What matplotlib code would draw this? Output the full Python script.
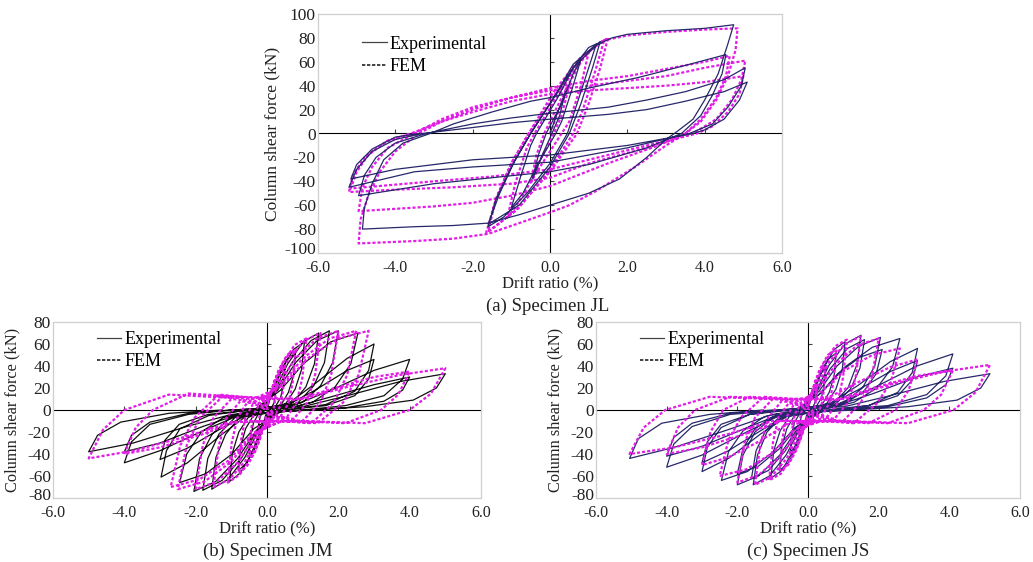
import matplotlib
matplotlib.use("Agg")
import matplotlib.pyplot as plt
from matplotlib.lines import Line2D
from matplotlib.transforms import ScaledTranslation

plt.rcParams['font.family'] = ['Liberation Serif', 'DejaVu Serif']

# ---------------- text / ticks ----------------
x_ticks = [-6.0, -4.0, -2.0, 0.0, 2.0, 4.0, 6.0]
JL_y_ticks = [-100, -80, -60, -40, -20, 0, 20, 40, 60, 80, 100]
JMS_y_ticks = [-80, -60, -40, -20, 0, 20, 40, 60, 80]
captions = ['(a) Specimen JL', '(b) Specimen JM', '(c) Specimen JS']
x_label = 'Drift ratio (%)'
y_label = 'Column shear force (kN)'
legend_labels = ['Experimental', 'FEM']

# ---------------- data: (drift %, shear kN) ----------------
JL_exp = [
    (0, 0), (0.2, 18), (0.4, 35), (0.25, 15), (0.05, 0), (-0.2, -18), (-0.45, -38), (-0.3, -18), (-0.1, 0),
    (0.3, 25), (0.6, 50), (0.8, 62), (0.55, 35), (0.3, 10), (0.15, 0), (-0.3, -25), (-0.7, -50), (-1.0, -62), (-0.75, -35), (-0.5, -10), (-0.35, 0),
    (0.2, 30), (0.6, 55), (1.0, 72), (1.2, 75), (1.0, 55), (0.7, 25), (0.45, 0), (0.0, -25), (-0.6, -50), (-1.2, -70), (-1.6, -78), (-1.4, -55), (-1.0, -28), (-0.5, 0),
    (0.1, 30), (0.6, 58), (1.1, 72), (1.3, 77), (1.1, 55), (0.8, 25), (0.5, 0), (0.0, -28), (-0.8, -60), (-1.6, -76), (-1.3, -50), (-0.9, -22), (-0.5, 0),
    (0.0, 25), (0.6, 55), (1.2, 74), (1.6, 80), (2.0, 83), (3.0, 86), (4.0, 88), (4.75, 91), (4.6, 75), (4.35, 50), (4.0, 28), (3.7, 12), (3.3, 2),
    (3.0, -5), (2.5, -20), (1.8, -38), (1.0, -50), (0.4, -56), (0.0, -60), (-0.8, -68), (-1.6, -75), (-2.5, -77), (-3.5, -78), (-4.85, -80),
    (-4.8, -62), (-4.6, -42), (-4.3, -22), (-3.8, -8), (-3.1, 0),
    (-2.5, 8), (-1.5, 18), (-0.5, 27), (0.0, 30), (1.0, 38), (2.3, 47), (3.5, 57), (4.55, 66), (4.45, 50), (4.2, 32), (3.9, 15), (3.4, 0),
    (2.5, -12), (1.0, -26), (0.0, -32), (-1.5, -37), (-3.0, -42), (-4.95, -52), (-4.8, -35), (-4.5, -20), (-4.0, -8), (-3.2, 0),
    (-2.0, 8), (-1.0, 13), (0.0, 17), (1.5, 22), (2.5, 28), (3.5, 35), (4.5, 45), (5.05, 55), (4.95, 40), (4.6, 22), (4.2, 8), (3.6, 0),
    (2.0, -12), (0.0, -24), (-2.0, -28), (-3.5, -32), (-5.2, -45), (-5.0, -30), (-4.6, -15), (-4.0, -5), (-3.3, 0),
    (-2.0, 5), (-1.0, 9), (0.0, 12), (1.5, 16), (2.5, 20), (3.5, 27), (4.5, 35), (5.1, 43), (4.9, 28), (4.5, 12), (4.0, 3), (3.7, 0),
    (2.0, -10), (0.0, -18), (-2.0, -22), (-4.0, -30), (-5.15, -38), (-5.0, -26), (-4.6, -13), (-4.0, -3), (-3.4, 0),
]

JL_fem = [
    (0, 0), (0.3, 25), (0.5, 40), (0.3, 15), (0.1, 0), (-0.3, -25), (-0.5, -42), (-0.35, -18), (-0.15, 0),
    (0.3, 30), (0.8, 60), (1.0, 68), (0.8, 40), (0.5, 10), (0.3, 0), (-0.3, -30), (-0.9, -62), (-1.1, -70), (-0.9, -42), (-0.6, -12), (-0.4, 0),
    (0.2, 32), (0.8, 62), (1.2, 74), (1.4, 78), (1.15, 50), (0.85, 20), (0.6, 0), (0.0, -30), (-0.8, -62), (-1.5, -80), (-1.65, -83), (-1.4, -55), (-1.0, -25), (-0.55, 0),
    (0.2, 35), (0.9, 66), (1.3, 76), (1.5, 80), (1.3, 55), (1.0, 25), (0.7, 0), (0.0, -32), (-0.9, -65), (-1.6, -82), (-1.4, -55), (-1.0, -25), (-0.55, 0),
    (0.1, 35), (0.8, 64), (1.4, 78), (2.0, 82), (3.0, 85), (4.0, 87), (4.85, 88), (4.8, 70), (4.6, 48), (4.3, 28), (3.9, 10), (3.5, 0),
    (3.0, -10), (2.2, -28), (1.2, -48), (0.5, -60), (0.0, -66), (-0.8, -75), (-1.6, -84), (-2.5, -88), (-3.5, -90), (-4.95, -92),
    (-4.9, -72), (-4.7, -52), (-4.4, -32), (-4.0, -15), (-3.4, 0),
    (-2.8, 10), (-2.0, 20), (-1.0, 30), (0.0, 38), (1.0, 44), (2.0, 48), (3.0, 54), (4.0, 60), (4.65, 65), (4.55, 48), (4.3, 30), (3.9, 12), (3.5, 0),
    (2.8, -10), (1.5, -25), (0.0, -44), (-1.0, -52), (-2.0, -58), (-3.0, -61), (-4.95, -65), (-4.85, -45), (-4.6, -28), (-4.2, -12), (-3.5, 0),
    (-2.8, 12), (-2.0, 22), (-1.0, 30), (0.0, 36), (1.0, 40), (2.0, 44), (3.0, 48), (4.0, 55), (5.05, 61), (4.95, 45), (4.7, 28), (4.3, 12), (3.7, 0),
    (2.5, -12), (1.0, -25), (0.0, -37), (-1.0, -42), (-2.5, -45), (-4.0, -47), (-5.2, -49), (-5.1, -35), (-4.8, -20), (-4.3, -8), (-3.6, 0),
    (-2.8, 10), (-2.0, 18), (-1.0, 27), (0.0, 33), (1.0, 36), (2.0, 38), (3.0, 40), (4.0, 43), (5.0, 48), (4.9, 33), (4.6, 18), (4.2, 6), (3.8, 0),
    (2.5, -10), (1.0, -22), (0.0, -30), (-1.5, -36), (-3.0, -40), (-5.15, -46), (-5.0, -32), (-4.7, -18), (-4.2, -6), (-3.6, 0),
]

JM_exp = [
    (0, 0), (0.04, 5), (0.1, 12), (0.18, 18), (0.25, 20), (0.23, 12), (0.19, 6), (0.12, 2), (0.05, 0),
    (-0.04, -5), (-0.1, -12), (-0.18, -18), (-0.25, -20), (-0.23, -12), (-0.19, -6), (-0.12, -2), (-0.05, 0),
    (0.08, 10), (0.2, 23), (0.35, 33), (0.5, 38), (0.46, 23), (0.38, 11), (0.25, 4), (0.1, 1),
    (-0.08, -10), (-0.2, -24), (-0.35, -35), (-0.5, -40), (-0.46, -24), (-0.38, -12), (-0.25, -4), (-0.1, -1),
    (0.12, 13), (0.32, 31), (0.56, 46), (0.8, 52), (0.74, 31), (0.6, 16), (0.4, 5), (0.16, 1),
    (-0.12, -14), (-0.32, -33), (-0.56, -48), (-0.8, -55), (-0.74, -33), (-0.6, -17), (-0.4, -6), (-0.16, -1),
    (0.16, 16), (0.42, 37), (0.74, 55), (1.05, 62), (0.97, 37), (0.79, 19), (0.53, 6), (0.21, 1),
    (-0.16, -16), (-0.42, -39), (-0.74, -57), (-1.05, -65), (-0.97, -39), (-0.79, -20), (-0.53, -7), (-0.21, -1),
    (0.22, 18), (0.58, 42), (1.02, 62), (1.45, 70), (1.33, 42), (1.09, 21), (0.73, 7), (0.29, 1),
    (-0.23, -18), (-0.62, -43), (-1.09, -63), (-1.55, -72), (-1.43, -43), (-1.16, -22), (-0.78, -7), (-0.31, -1),
    (0.26, 18), (0.7, 43), (1.23, 63), (1.75, 72), (1.61, 43), (1.31, 22), (0.88, 7), (0.35, 1),
    (-0.27, -18), (-0.72, -44), (-1.26, -64), (-1.8, -73), (-1.66, -44), (-1.35, -22), (-0.9, -7), (-0.36, -1),
    (0.3, 18), (0.8, 43), (1.4, 63), (2.0, 72), (1.84, 43), (1.5, 22), (1.0, 7), (0.4, 1),
    (-0.31, -19), (-0.82, -44), (-1.44, -65), (-2.05, -74), (-1.89, -44), (-1.54, -22), (-1.03, -7), (-0.41, -1),
    (0.38, 18), (1.02, 42), (1.79, 62), (2.55, 70), (2.35, 42), (1.91, 21), (1.28, 7), (0.51, 1),
    (-0.37, -17), (-0.98, -40), (-1.72, -58), (-2.45, -66), (-2.25, -40), (-1.84, -20), (-1.23, -7), (-0.49, -1),
    (0.6, 6), (1.35, 24), (2.25, 47), (3.0, 60), (2.85, 36), (2.46, 17), (1.65, 5), (0.75, 1),
    (-0.6, -6), (-1.34, -24), (-2.23, -48), (-2.97, -61), (-2.82, -37), (-2.44, -17), (-1.63, -5), (-0.74, -1),
    (0.6, 5), (1.35, 18), (2.25, 36), (3.0, 46), (2.85, 28), (2.46, 13), (1.65, 4), (0.75, 1),
    (-0.6, -5), (-1.35, -18), (-2.25, -35), (-3.0, -45), (-2.85, -27), (-2.46, -13), (-1.65, -4), (-0.75, -1),
    (0.8, 5), (1.8, 18), (3.0, 36), (4.0, 46), (3.8, 28), (3.28, 13), (2.2, 4), (1.0, 0),
    (-0.8, -5), (-1.8, -19), (-3.0, -37), (-4.0, -48), (-3.8, -29), (-3.28, -13), (-2.2, -4), (-1.0, 0),
    (0.8, 3), (1.8, 12), (3.0, 23), (4.0, 30), (3.8, 18), (3.28, 8), (2.2, 2), (1.0, 0),
    (-0.8, -4), (-1.8, -15), (-3.0, -30), (-4.0, -38), (-3.8, -23), (-3.28, -11), (-2.2, -3), (-1.0, 0),
    (1.0, 3), (2.25, 13), (3.75, 26), (5.0, 33), (4.75, 20), (4.1, 9), (2.75, 3), (1.25, 0),
    (-1.0, -4), (-2.25, -15), (-3.75, -30), (-5.0, -38), (-4.75, -23), (-4.1, -11), (-2.75, -3), (-1.25, 0),
]

JM_fem = [
    (0, 0), (0.04, 7), (0.1, 14), (0.18, 20), (0.25, 22), (0.23, 10), (0.19, 2), (0.13, -1), (0.04, -1),
    (-0.04, -7), (-0.1, -14), (-0.18, -20), (-0.25, -22), (-0.23, -10), (-0.19, -2), (-0.13, 1), (-0.04, 1),
    (0.08, 12), (0.2, 26), (0.35, 36), (0.5, 40), (0.45, 18), (0.38, 4), (0.25, -3), (0.08, -2),
    (-0.08, -13), (-0.2, -27), (-0.35, -38), (-0.5, -42), (-0.45, -19), (-0.38, -4), (-0.25, 3), (-0.08, 2),
    (0.12, 17), (0.32, 36), (0.56, 50), (0.8, 55), (0.72, 25), (0.6, 6), (0.4, -5), (0.12, -4),
    (-0.12, -17), (-0.32, -37), (-0.56, -51), (-0.8, -57), (-0.72, -26), (-0.6, -6), (-0.4, 5), (-0.12, 4),
    (0.17, 20), (0.44, 42), (0.77, 59), (1.1, 65), (0.99, 29), (0.83, 7), (0.55, -7), (0.17, -6),
    (-0.17, -20), (-0.44, -43), (-0.77, -59), (-1.1, -66), (-0.99, -30), (-0.83, -7), (-0.55, 7), (-0.17, 6),
    (0.23, 21), (0.6, 46), (1.05, 63), (1.5, 70), (1.35, 32), (1.13, 7), (0.75, -8), (0.23, -6),
    (-0.23, -21), (-0.6, -46), (-1.05, -63), (-1.5, -70), (-1.35, -32), (-1.13, -7), (-0.75, 8), (-0.23, 6),
    (0.3, 22), (0.8, 47), (1.4, 65), (2.0, 72), (1.8, 32), (1.5, 7), (1.0, -10), (0.3, -8),
    (-0.3, -22), (-0.8, -47), (-1.4, -65), (-2.0, -72), (-1.8, -32), (-1.5, -7), (-1.0, 10), (-0.3, 8),
    (0.38, 22), (1.0, 47), (1.75, 65), (2.5, 72), (2.25, 32), (1.88, 7), (1.25, -12), (0.38, -10),
    (-0.38, -22), (-1.0, -47), (-1.75, -65), (-2.5, -72), (-2.25, -32), (-1.88, -7), (-1.25, 12), (-0.38, 10),
    (0.43, 22), (1.14, 47), (2.0, 65), (2.85, 72), (2.57, 32), (2.14, 7), (1.43, -12), (0.43, -10),
    (-0.4, -21), (-1.08, -46), (-1.89, -63), (-2.7, -70), (-2.43, -32), (-2.03, -7), (-1.35, 14), (-0.4, 11),
    (0.8, 9), (1.8, 19), (3.0, 30), (4.0, 35), (3.68, 14), (3.2, 0), (2.2, -12), (0.8, -10),
    (-0.8, -10), (-1.8, -22), (-3.0, -34), (-4.0, -40), (-3.68, -16), (-3.2, 0), (-2.2, 15), (-0.8, 12),
    (1.0, 10), (2.25, 21), (3.75, 32), (5.0, 38), (4.6, 15), (4.0, 0), (2.75, -12), (1.0, -10),
    (-1.0, -11), (-2.25, -24), (-3.75, -37), (-5.0, -44), (-4.6, -18), (-4.0, 0), (-2.75, 14), (-1.0, 11),
]

JS_exp = [
    (0, 0), (0.04, 5), (0.1, 12), (0.18, 18), (0.25, 20), (0.23, 12), (0.19, 6), (0.12, 2), (0.05, 0),
    (-0.04, -5), (-0.1, -12), (-0.18, -18), (-0.25, -20), (-0.23, -12), (-0.19, -6), (-0.12, -2), (-0.05, 0),
    (0.08, 10), (0.2, 23), (0.35, 33), (0.5, 38), (0.46, 23), (0.38, 11), (0.25, 4), (0.1, 1),
    (-0.08, -10), (-0.2, -23), (-0.35, -33), (-0.5, -38), (-0.46, -23), (-0.38, -11), (-0.25, -4), (-0.1, -1),
    (0.12, 13), (0.32, 31), (0.56, 46), (0.8, 52), (0.74, 31), (0.6, 16), (0.4, 5), (0.16, 1),
    (-0.12, -14), (-0.32, -33), (-0.56, -48), (-0.8, -55), (-0.74, -33), (-0.6, -17), (-0.4, -6), (-0.16, -1),
    (0.16, 16), (0.42, 37), (0.74, 55), (1.05, 62), (0.97, 37), (0.79, 19), (0.53, 6), (0.21, 1),
    (-0.16, -16), (-0.42, -37), (-0.74, -55), (-1.05, -62), (-0.97, -37), (-0.79, -19), (-0.53, -6), (-0.21, -1),
    (0.23, 17), (0.6, 41), (1.05, 60), (1.5, 68), (1.38, 41), (1.13, 20), (0.75, 7), (0.3, 1),
    (-0.23, -17), (-0.62, -41), (-1.09, -60), (-1.55, -68), (-1.43, -41), (-1.16, -20), (-0.78, -7), (-0.31, -1),
    (0.24, 16), (0.64, 38), (1.12, 56), (1.6, 64), (1.47, 38), (1.2, 19), (0.8, 6), (0.32, 1),
    (-0.24, -16), (-0.64, -37), (-1.12, -55), (-1.6, -62), (-1.47, -37), (-1.2, -19), (-0.8, -6), (-0.32, -1),
    (0.31, 17), (0.82, 40), (1.44, 58), (2.05, 66), (1.89, 40), (1.54, 20), (1.03, 7), (0.41, 1),
    (-0.3, -17), (-0.8, -41), (-1.4, -60), (-2.0, -68), (-1.84, -41), (-1.5, -20), (-1.0, -7), (-0.4, -1),
    (0.32, 14), (0.84, 33), (1.47, 48), (2.1, 55), (1.93, 33), (1.58, 17), (1.05, 6), (0.42, 1),
    (-0.3, -15), (-0.8, -35), (-1.4, -51), (-2.0, -58), (-1.84, -35), (-1.5, -17), (-1.0, -6), (-0.4, -1),
    (0.39, 16), (1.04, 39), (1.82, 57), (2.6, 65), (2.39, 39), (1.95, 20), (1.3, 7), (0.52, 1),
    (-0.37, -16), (-0.98, -38), (-1.72, -56), (-2.45, -64), (-2.25, -38), (-1.84, -19), (-1.23, -6), (-0.49, -1),
    (0.62, 6), (1.4, 22), (2.33, 44), (3.1, 56), (2.95, 34), (2.54, 16), (1.71, 4), (0.78, 1),
    (-0.6, -6), (-1.35, -22), (-2.25, -44), (-3.0, -56), (-2.85, -34), (-2.46, -16), (-1.65, -4), (-0.75, -1),
    (0.62, 5), (1.4, 18), (2.33, 35), (3.1, 45), (2.95, 27), (2.54, 13), (1.71, 4), (0.78, 0),
    (-0.6, -5), (-1.35, -19), (-2.25, -37), (-3.0, -48), (-2.85, -29), (-2.46, -13), (-1.65, -4), (-0.75, 0),
    (0.82, 5), (1.85, 20), (3.08, 40), (4.1, 51), (3.9, 31), (3.36, 14), (2.26, 4), (1.03, 1),
    (-0.8, -5), (-1.8, -21), (-3.0, -41), (-4.0, -52), (-3.8, -31), (-3.28, -15), (-2.2, -4), (-1.0, -1),
    (0.82, 4), (1.85, 15), (3.08, 30), (4.1, 38), (3.9, 23), (3.36, 11), (2.26, 3), (1.03, 0),
    (-0.8, -4), (-1.8, -17), (-3.0, -33), (-4.0, -42), (-3.8, -25), (-3.28, -12), (-2.2, -3), (-1.0, 0),
    (1.03, 3), (2.32, 13), (3.86, 26), (5.15, 33), (4.89, 20), (4.22, 9), (2.83, 3), (1.29, 0),
    (-1.01, -4), (-2.27, -18), (-3.79, -34), (-5.05, -44), (-4.8, -26), (-4.14, -12), (-2.78, -4), (-1.26, 0),
]

JS_fem = [
    (0, 0), (0.04, 7), (0.1, 14), (0.18, 20), (0.25, 22), (0.23, 10), (0.19, 2), (0.13, -1), (0.04, -1),
    (-0.04, -7), (-0.1, -14), (-0.18, -20), (-0.25, -22), (-0.23, -10), (-0.19, -2), (-0.13, 1), (-0.04, 1),
    (0.08, 12), (0.2, 26), (0.35, 36), (0.5, 40), (0.45, 18), (0.38, 4), (0.25, -3), (0.08, -2),
    (-0.08, -12), (-0.2, -26), (-0.35, -36), (-0.5, -40), (-0.45, -18), (-0.38, -4), (-0.25, 3), (-0.08, 2),
    (0.12, 17), (0.32, 36), (0.56, 50), (0.8, 55), (0.72, 25), (0.6, 6), (0.4, -5), (0.12, -4),
    (-0.12, -17), (-0.32, -36), (-0.56, -50), (-0.8, -55), (-0.72, -25), (-0.6, -6), (-0.4, 5), (-0.12, 4),
    (0.17, 19), (0.44, 42), (0.77, 58), (1.1, 64), (0.99, 29), (0.83, 6), (0.55, -6), (0.17, -5),
    (-0.17, -19), (-0.44, -42), (-0.77, -58), (-1.1, -64), (-0.99, -29), (-0.83, -6), (-0.55, 6), (-0.17, 5),
    (0.23, 20), (0.6, 44), (1.05, 60), (1.5, 67), (1.35, 30), (1.13, 7), (0.75, -8), (0.23, -6),
    (-0.23, -20), (-0.6, -44), (-1.05, -61), (-1.5, -68), (-1.35, -31), (-1.13, -7), (-0.75, 8), (-0.23, 6),
    (0.3, 20), (0.8, 42), (1.4, 59), (2.0, 65), (1.8, 29), (1.5, 7), (1.0, -10), (0.3, -8),
    (-0.3, -20), (-0.8, -43), (-1.4, -59), (-2.0, -66), (-1.8, -30), (-1.5, -7), (-1.0, 10), (-0.3, 8),
    (0.39, 17), (1.04, 36), (1.82, 50), (2.6, 56), (2.34, 25), (1.95, 6), (1.3, -12), (0.39, -10),
    (-0.38, -18), (-1.0, -39), (-1.75, -54), (-2.5, -60), (-2.25, -27), (-1.88, -6), (-1.25, 12), (-0.38, 10),
    (0.62, 12), (1.4, 25), (2.33, 39), (3.1, 46), (2.85, 18), (2.48, 0), (1.71, -12), (0.62, -10),
    (-0.6, -13), (-1.35, -28), (-2.25, -43), (-3.0, -50), (-2.76, -20), (-2.4, 0), (-1.65, 12), (-0.6, 10),
    (0.82, 9), (1.85, 20), (3.08, 31), (4.1, 36), (3.77, 14), (3.28, 0), (2.26, -12), (0.82, -10),
    (-0.8, -10), (-1.8, -22), (-3.0, -34), (-4.0, -40), (-3.68, -16), (-3.2, 0), (-2.2, 12), (-0.8, 10),
    (1.03, 10), (2.32, 23), (3.86, 35), (5.15, 41), (4.74, 16), (4.12, 0), (2.83, -12), (1.03, -10),
    (-1.01, -10), (-2.27, -22), (-3.79, -34), (-5.05, -40), (-4.65, -16), (-4.04, 0), (-2.78, 12), (-1.01, 10),
]

# ---------------- styling ----------------
EXP_NAVY = '#27286a'
EXP_BLACK = '#101010'
FEM_MAGENTA = '#e21ee6'
FEM_STYLE = (0, (1.4, 0.9))
TEXT_COLOR = '#222222'


def unpack(points):
    return [p[0] for p in points], [p[1] for p in points]


fig = plt.figure(figsize=(10.33, 5.62), dpi=100)

panels = [
    dict(rect=[318 / 1033, 1 - 253 / 562, 464 / 1033, 239 / 562], exp=JL_exp, fem=JL_fem,
         exp_color=EXP_NAVY, ylim=(-100, 100), yticks=JL_y_ticks, fem_on_top=False,
         caption=captions[0], cap_xy=(548 / 1033, 1 - 306 / 562), leg_anchor=(0.08, 0.94),
         ylab_x=-0.082, ylab_size=12.5),
    dict(rect=[53 / 1033, 1 - 498 / 562, 428 / 1033, 176 / 562], exp=JM_exp, fem=JM_fem,
         exp_color=EXP_BLACK, ylim=(-80, 80), yticks=JMS_y_ticks, fem_on_top=True,
         caption=captions[1], cap_xy=(268 / 1033, 1 - 551 / 562), leg_anchor=(0.086, 0.99),
         ylab_x=-0.077, ylab_size=11.8),
    dict(rect=[596 / 1033, 1 - 498 / 562, 424 / 1033, 176 / 562], exp=JS_exp, fem=JS_fem,
         exp_color=EXP_NAVY, ylim=(-80, 80), yticks=JMS_y_ticks, fem_on_top=True,
         caption=captions[2], cap_xy=(808 / 1033, 1 - 551 / 562), leg_anchor=(0.087, 0.99),
         ylab_x=-0.078, ylab_size=11.8),
]

for p in panels:
    ax = fig.add_axes(p['rect'])
    ex, ey = unpack(p['exp'])
    fx, fy = unpack(p['fem'])
    z_exp, z_fem = (3, 4) if p['fem_on_top'] else (4, 3)
    ax.plot(ex, ey, color=p['exp_color'], lw=0.9, zorder=z_exp)
    ax.plot(fx, fy, color=FEM_MAGENTA, lw=1.6, linestyle=FEM_STYLE, zorder=z_fem)

    ax.set_xlim(-6, 6)
    ax.set_ylim(*p['ylim'])
    ax.set_xticks(x_ticks)
    ax.set_xticklabels([f'{v:.1f}' for v in x_ticks])
    ax.set_yticks(p['yticks'])
    ax.set_yticklabels([str(v) for v in p['yticks']])
    ax.tick_params(axis='x', length=0, pad=5, labelsize=11.5, colors=TEXT_COLOR)
    ax.tick_params(axis='y', length=0, pad=1.5, labelsize=12.5, colors=TEXT_COLOR)
    # nudge the lowest y label up a little so it clears the first x label
    low = ax.get_yticklabels()[0]
    low.set_transform(low.get_transform() + ScaledTranslation(0, 0.045, fig.dpi_scale_trans))
    for s in ax.spines.values():
        s.set_color('#cfcfcf')
        s.set_linewidth(0.9)

    # zero lines with small tick marks
    secx = ax.secondary_xaxis(0.5)
    secx.set_xticks([v for v in x_ticks if v not in (-6.0, 0.0, 6.0)])
    secx.tick_params(labelbottom=False, labeltop=False, length=3, direction='out',
                     color='#444444', width=0.8)
    secx.spines['bottom'].set_color('#444444')
    secx.spines['bottom'].set_linewidth(1.0)
    secy = ax.secondary_yaxis(0.5)
    secy.set_yticks([v for v in p['yticks'] if v not in (0, p['ylim'][0], p['ylim'][1])])
    secy.tick_params(labelleft=False, labelright=False, length=3, direction='out',
                     color='#444444', width=0.8)
    secy.spines['left'].set_color('#444444')
    secy.spines['left'].set_linewidth(1.0)

    ax.set_xlabel(x_label, fontsize=12, labelpad=0.3, color=TEXT_COLOR)
    ax.set_ylabel(y_label, fontsize=p['ylab_size'], color=TEXT_COLOR)
    ax.yaxis.set_label_coords(p['ylab_x'], 0.5)

    handles = [Line2D([0], [0], color='#444444', lw=0.9),
               Line2D([0], [0], color='#222222', lw=1.2, linestyle=(0, (2, 1)))]
    ax.legend(handles, legend_labels, loc='upper left', bbox_to_anchor=p['leg_anchor'],
              frameon=False, fontsize=13, handlelength=1.35, handletextpad=0.15,
              labelspacing=0.3, borderaxespad=0)

    fig.text(p['cap_xy'][0], p['cap_xy'][1], p['caption'], ha='center', va='center',
             fontsize=13.5, color=TEXT_COLOR)

fig.savefig('out.png', dpi=100)
